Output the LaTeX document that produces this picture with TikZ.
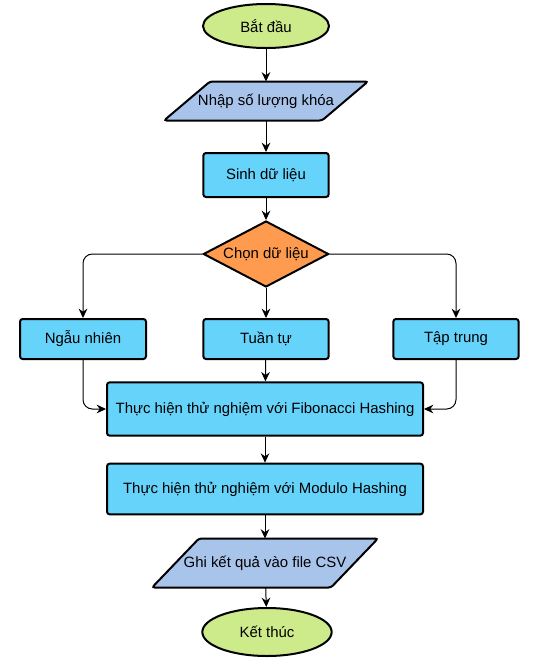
\documentclass[tikz,border=0pt]{standalone}
\usepackage{fontspec}
\setmainfont{Liberation Sans}
\usepackage{xcolor}
\usetikzlibrary{shapes.geometric,arrows.meta,backgrounds}

\definecolor{startgreen}{HTML}{CDEB8B}
\definecolor{ioblue}{HTML}{A9C4EB}
\definecolor{procblue}{HTML}{66D3FA}
\definecolor{choiceorange}{HTML}{FF9B4E}

% slanted frame drawn round a text node
\newcommand{\ioframe}[2]{%
  \draw[ioline] ([xshift=-#2]#1.south west) -- ([xshift=#2]#1.north west)
    -- ([xshift=#2]#1.north east) -- ([xshift=-#2]#1.south east) -- cycle;}

\tikzset{
  base/.style={draw=black, line width=1.5pt, inner sep=0pt, align=center,
    font=\fontsize{11.2}{13}\selectfont},
  terminal/.style={base, ellipse, fill=startgreen},
  io/.style={base, rectangle, draw=none},
  ioline/.style={draw=black, line width=1.5pt, rounded corners=2pt, fill=ioblue},
  process/.style={base, rectangle, rounded corners=2pt, fill=procblue},
  choice/.style={base, diamond, aspect=2, fill=choiceorange},
  arr/.style={-{Stealth[length=7pt,width=6.5pt]}, line width=0.75pt, rounded corners=7pt},
}

\begin{document}
\begin{tikzpicture}[x=0.75pt, y=-0.75pt]
    \useasboundingbox (0,0) rectangle (538,658);

    \node[terminal, minimum width=94.5pt, minimum height=33pt] (start) at (266,26) {Bắt đầu};
    \node[io, minimum width=117pt, minimum height=27.75pt] (input) at (266,101) {Nhập số lượng khóa};
    \node[process, minimum width=94pt, minimum height=33pt] (gen) at (266,175) {Sinh dữ liệu};
    \node[choice, minimum width=94pt, minimum height=49.5pt] (pick) at (266,254) {Chọn dữ liệu};

    \node[process, minimum width=94.5pt, minimum height=30pt] (rand) at (83,339) {Ngẫu nhiên};
    \node[process, minimum width=94pt, minimum height=30pt] (seq) at (266,339) {Tuần tự};
    \node[process, minimum width=94pt, minimum height=30pt] (clus) at (456,339) {Tập trung};

    \node[process, minimum width=237pt, minimum height=40pt] (fibo) at (265,409) {Thực hiện thử nghiệm với Fibonacci Hashing};
    \node[process, minimum width=237pt, minimum height=38pt] (modu) at (265,489) {Thực hiện thử nghiệm với Modulo Hashing};
    \node[io, minimum width=132.75pt, minimum height=35.25pt] (save) at (265,563) {Ghi kết quả vào file CSV};
    \node[terminal, minimum width=97pt, minimum height=36pt] (stop) at (267,632) {Kết thúc};

    \begin{scope}[on background layer]
        \ioframe{input}{17.25pt}
        \ioframe{save}{17.6pt}
    \end{scope}

    % main flow
    \draw[arr] (start) -- (input);
    \draw[arr] (input) -- (gen);
    \draw[arr] (gen) -- (pick);
    \draw[arr] (pick.west) -| (rand.north);
    \draw[arr] (pick) -- (seq);
    \draw[arr] (pick.east) -| (clus.north);
    \draw[arr] (rand.south) |- (fibo.west);
    \draw[arr] (seq) -- (fibo);
    \draw[arr] (clus.south) |- (fibo.east);
    \draw[arr] (fibo) -- (modu);
    \draw[arr] (modu) -- (save);
    \draw[arr] (save) -- (stop);
\end{tikzpicture}
\end{document}
